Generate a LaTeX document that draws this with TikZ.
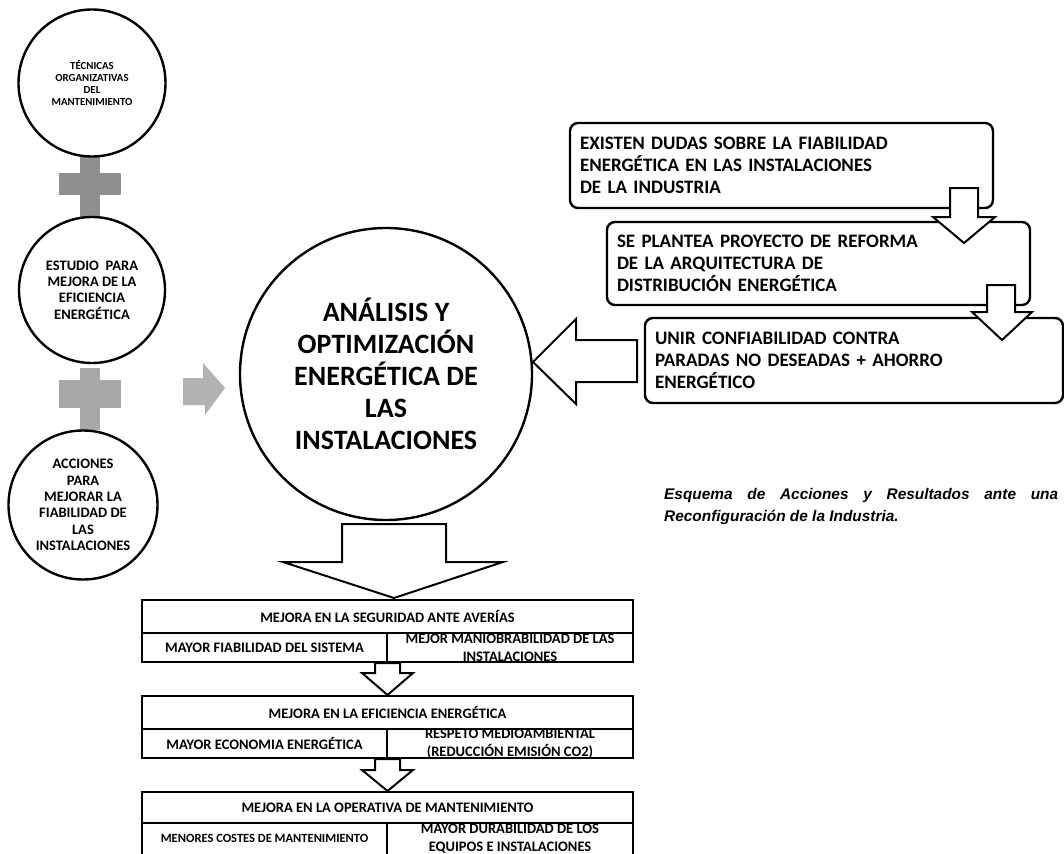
\documentclass[tikz,border=0pt]{standalone}
\usepackage{fontspec}
\setmainfont{Carlito}
\newfontfamily\capfont{Liberation Sans}
\begin{document}
\begin{tikzpicture}[x=1pt,y=-1pt,
  circ/.style={circle, draw, line width=2.4pt, fill=white, inner sep=0pt, align=center, minimum size=#1},
  rbox/.style={draw, rounded corners=8pt, line width=2.4pt, fill=white, inner xsep=10pt, inner ysep=0pt,
     align=left, font=\bfseries\fontsize{19}{22}\selectfont},
  cell/.style={draw, line width=2.6pt, inner sep=0pt},
  tt/.style={font=\bfseries\fontsize{14.5}{18}\selectfont, align=center, inner sep=0pt},
  barrow/.style={draw, line width=2pt, fill=white, line join=miter},
  plusA/.style={fill=gray!88!white},
  plusB/.style={fill=gray!68!white},
]
\useasboundingbox (0,0) rectangle (1064,853);

% plus signs
\fill[plusA] (80,155) rectangle (100,217);
\fill[plusA] (59,173) rectangle (121,195);
\fill[plusB] (80,368) rectangle (100,430);
\fill[plusB] (59,380) rectangle (121,408);

% left circles
\node[circ=147pt, font=\bfseries\fontsize{10.8}{12}\selectfont] (c1) at (92,83)
  {TÉCNICAS\\ORGANIZATIVAS\\DEL\\MANTENIMIENTO};
\node[circ=146pt, font=\bfseries\fontsize{14.5}{16.3}\selectfont] (c2) at (92,290)
  {ESTUDIO~~PARA\\MEJORA DE LA\\EFICIENCIA\\ENERGÉTICA};
\node[circ=149pt, font=\bfseries\fontsize{14.5}{16.3}\selectfont] (c3) at (83,505)
  {ACCIONES\\PARA\\MEJORAR LA\\FIABILIDAD DE\\LAS\\INSTALACIONES};

% gray arrow
\fill[gray!60!white] (183,378) -- (203,378) -- (203,363) -- (225,388) -- (205,415) -- (205,405) -- (183,405) -- cycle;

% main circle
\node[circ=292pt, font=\bfseries\fontsize{28}{32}\selectfont] (main) at (386,374)
  {ANÁLISIS Y\\OPTIMIZACIÓN\\ENERGÉTICA DE\\LAS\\INSTALACIONES};

% right boxes
\node[rbox, minimum width=423pt, minimum height=85pt, text width=403pt] (b1) at (781.5,165.5)
  {EXISTEN DUDAS SOBRE LA FIABILIDAD\\ENERGÉTICA EN LAS INSTALACIONES\\DE LA INDUSTRIA};
\node[rbox, minimum width=423pt, minimum height=83pt, text width=403pt] (b2) at (818.5,263.5)
  {SE PLANTEA PROYECTO DE REFORMA\\DE LA ARQUITECTURA DE\\DISTRIBUCIÓN ENERGÉTICA};
\node[rbox, minimum width=418pt, minimum height=85pt, text width=398pt] (b3) at (854,360.5)
  {UNIR CONFIABILIDAD CONTRA\\PARADAS NO DESEADAS + AHORRO\\ENERGÉTICO};

% arrows between right boxes
\draw[barrow] (950,188) -- (978,188) -- (978,217) -- (995,217) -- (964,243) -- (933,217) -- (950,217) -- cycle;
\draw[barrow] (987,285) -- (1015,285) -- (1015,312) -- (1032,312) -- (1002,340) -- (972,312) -- (987,312) -- cycle;

% arrow into main circle
\draw[barrow] (637,340) -- (576,340) -- (576,319) -- (533,362) -- (576,404) -- (576,382) -- (637,382) -- cycle;

% arrow down from main circle
\draw[barrow] (342,524) -- (446,524) -- (446,562) -- (503,562) -- (394,598) -- (283,562) -- (342,562) -- cycle;

% table 1
\node[cell, minimum width=491pt, minimum height=33pt] (t1h) at (387.5,616.5) {};
\node[cell, minimum width=245pt, minimum height=29pt] (t1l) at (264.5,647.5) {};
\node[cell, minimum width=246pt, minimum height=29pt] (t1r) at (510,647.5) {};
\node[tt] at (t1h) {MEJORA EN LA SEGURIDAD ANTE AVERÍAS};
\node[tt] at (t1l) {MAYOR FIABILIDAD DEL SISTEMA};
\node[tt] at (t1r) {MEJOR MANIOBRABILIDAD DE LAS\\INSTALACIONES};

% table 2
\node[cell, minimum width=491pt, minimum height=33pt] (t2h) at (387.5,712.5) {};
\node[cell, minimum width=245pt, minimum height=29pt] (t2l) at (264.5,743.5) {};
\node[cell, minimum width=246pt, minimum height=29pt] (t2r) at (510,743.5) {};
\node[tt] at (t2h) {MEJORA EN LA EFICIENCIA ENERGÉTICA};
\node[tt] at (t2l) {MAYOR ECONOMIA ENERGÉTICA};
\node[tt] at (t2r) {RESPETO MEDIOAMBIENTAL\\(REDUCCIÓN EMISIÓN CO2)};

% table 3
\node[cell, minimum width=491pt, minimum height=31pt] (t3h) at (387.5,807.5) {};
\node[cell, minimum width=245pt, minimum height=34pt] (t3l) at (264.5,840) {};
\node[cell, minimum width=246pt, minimum height=34pt] (t3r) at (510,840) {};
\node[tt] at (t3h) {MEJORA EN LA OPERATIVA DE MANTENIMIENTO};
\node[tt, font=\bfseries\fontsize{12.5}{15}\selectfont] at (264.5,838) {MENORES COSTES DE MANTENIMIENTO};
\node[tt] at (510,838.5) {MAYOR DURABILIDAD DE LOS\\EQUIPOS E INSTALACIONES};

% small arrows between tables
\draw[barrow] (375,663) -- (400,663) -- (400,673) -- (413,673) -- (387.5,695) -- (362,673) -- (375,673) -- cycle;
\draw[barrow] (375,759) -- (400,759) -- (400,770) -- (413,770) -- (387.5,791) -- (362,770) -- (375,770) -- cycle;

% caption
\node[anchor=north west, text width=394pt, align=justify, inner sep=0pt,
  font=\capfont\bfseries\itshape\fontsize{15.4}{22}\selectfont] (cap) at (664,488)
  {\hyphenpenalty=10000 Esquema de Acciones y Resultados ante una\linebreak Reconfiguración de la Industria.};
\end{tikzpicture}
\end{document}
